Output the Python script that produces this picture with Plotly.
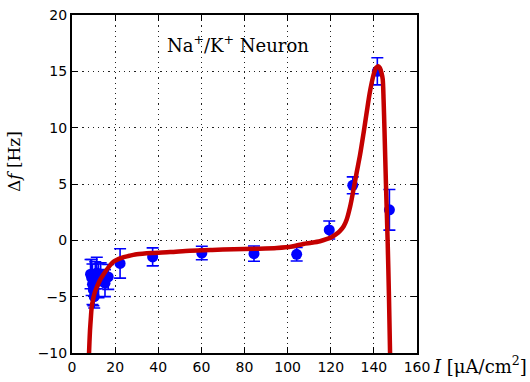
import plotly.graph_objects as go

# measured points
pt_x = [8.6, 9.1, 9.5, 9.9, 10.3, 10.8, 11.5, 12.3, 13.3, 15.3, 16.8, 22.3, 37.4, 60.2, 84.4, 104.2, 119.3, 130.2, 141.6, 147.2]
pt_y = [-3.0, -3.3, -3.9, -4.4, -5.0, -3.1, -2.9, -3.6, -3.0, -3.8, -3.25, -2.05, -1.47, -1.13, -1.18, -1.24, 0.92, 4.88, 15.0, 2.71]
pt_err = [1.3, 1.6, 1.8, 1.4, 1.0, 1.2, 1.4, 1.5, 1.0, 1.2, 1.1, 1.3, 0.8, 0.6, 0.68, 0.6, 0.8, 0.75, 1.2, 1.8]

# fitted curve
fit_x = [7.9, 8.1, 8.35, 8.7, 9.1, 9.8, 10.6, 11.4, 12.8, 14.5, 16.5, 19.2, 23, 26, 30, 37, 45.5, 54.7, 65, 75,
         85, 95, 102, 107.3, 111, 115, 118, 120.5, 122.5, 124.3, 126, 127.4, 129, 130.5, 132, 133.6, 135.2,
         136.7, 138, 139, 140, 141, 142, 142.8, 143.5, 144.1, 144.5, 144.9, 145.6, 146.4, 147.0, 147.5]
fit_y = [-10, -9, -8, -7, -6, -5.2, -4.6, -4.2, -3.6, -3.06, -2.5, -1.9, -1.55, -1.4, -1.24, -1.12, -1.04, -0.92, -0.85, -0.8,
         -0.75, -0.68, -0.55, -0.32, -0.22, -0.08, 0.1, 0.3, 0.55, 0.84, 1.25, 1.85, 3.0, 4.45, 6.0, 7.6, 9.5,
         11.4, 13.0, 14.0, 14.8, 15.3, 15.45, 15.3, 14.9, 14.3, 12.5, 9.95, 5.0, -0.17, -5.0, -10.0]

x_ticks = [0, 20, 40, 60, 80, 100, 120, 140, 160]
y_ticks = [-10, -5, 0, 5, 10, 15, 20]

fig = go.Figure()
fig.add_trace(go.Scatter(
    x=pt_x, y=pt_y, mode="markers",
    marker=dict(color="#0000ff", size=11, line=dict(width=0)),
    error_y=dict(type="data", array=pt_err, color="#0000ff", thickness=1.6, width=6),
    showlegend=False))
fig.add_trace(go.Scatter(
    x=fit_x, y=fit_y, mode="lines",
    line=dict(color="#c40000", width=4.5, shape="spline", smoothing=0.8),
    showlegend=False))

axis_common = dict(
    showline=True, linecolor="black", linewidth=2, mirror="allticks",
    ticks="inside", ticklen=6, tickwidth=1.2, tickcolor="black",
    showgrid=True, gridcolor="#222222", griddash="1.2px,4px", gridwidth=1.2,
    zeroline=False,
    tickfont=dict(family="DejaVu Sans", size=14, color="black"),
)
fig.update_xaxes(range=[0, 160], tickvals=x_ticks, ticktext=[str(v) for v in x_ticks], **axis_common)
fig.update_yaxes(range=[-10, 20], tickvals=y_ticks,
                 ticktext=[("\u2212" + str(-v)) if v < 0 else str(v) for v in y_ticks], **axis_common)

fig.update_layout(
    width=530, height=382,
    margin=dict(l=72, r=113, t=7, b=29),
    paper_bgcolor="white", plot_bgcolor="white",
    annotations=[
        dict(text="Na<sup>+</sup>/K<sup>+</sup> Neuron", xref="paper", yref="paper",
             x=0.481, y=0.915, xanchor="center", yanchor="middle", showarrow=False,
             font=dict(family="DejaVu Serif", size=18, color="black")),
        dict(text="\u0394<i>f</i> [Hz]", xref="paper", yref="paper",
             x=-0.168, y=0.565, xanchor="center", yanchor="middle", textangle=-90, showarrow=False,
             font=dict(family="DejaVu Serif", size=17, color="black")),
        dict(text="<i>I</i> [\u03bcA/cm<sup>2</sup>]", xref="paper", yref="paper",
             x=1.042, y=-0.035, xanchor="left", yanchor="middle", showarrow=False,
             font=dict(family="DejaVu Serif", size=18, color="black")),
    ],
)

fig.write_html("out.html")
